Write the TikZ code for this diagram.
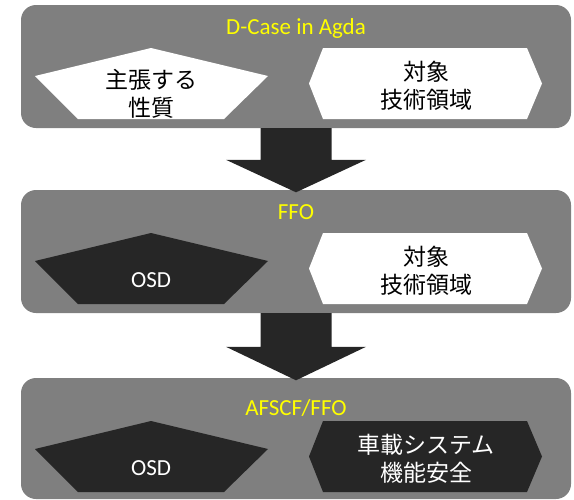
\documentclass[tikz,border=0pt]{standalone}
\usepackage{fontspec}
\setmainfont{Carlito}
\newfontfamily\jp{Noto Sans CJK JP}
\usetikzlibrary{calc}
\definecolor{panelgray}{RGB}{127,127,127}
\definecolor{shapedark}{RGB}{38,38,38}
\definecolor{titleyellow}{RGB}{255,255,0}
\tikzset{
  panel/.style={fill=panelgray, rounded corners=15pt, inner sep=0pt, draw=none, minimum width=550pt},
  lightshape/.style={fill=white},
  darkfill/.style={fill=shapedark},
  blockarrow/.style={fill=shapedark},
  titletext/.style={text=titleyellow, font=\fontsize{23}{28}\selectfont, anchor=base, inner sep=0pt},
  blacktext/.style={text=black, font=\fontsize{23}{28}\selectfont, align=center, inner sep=0pt},
  whitetext/.style={text=white, font=\fontsize{23}{28}\selectfont, align=center, inner sep=0pt},
  pentapath/.style={insert path={(151,43) -- (268,71) -- (224,114) -- (78,114) -- (35,71) -- cycle}},
  hexapath/.style={insert path={(323,43) -- (527,43) -- (542,78.5) -- (527,114) -- (323,114) -- (309,78.5) -- cycle}}
}
\begin{document}
\begin{tikzpicture}[x=1pt,y=-1pt]
\useasboundingbox (0,0) rectangle (574,499);
% panels
\node[panel, minimum height=123pt] (p1) at (296,66.5) {};
\node[panel, minimum height=123pt] (p2) at (296,251.5) {};
\node[panel, minimum height=121pt] (p3) at (296,438.5) {};
% panel 1
\begin{scope}[shift={(0,5)}]
  \fill[lightshape, pentapath];
  \fill[lightshape, hexapath];
  \node[titletext] (t1) at (296,29.5) {D-Case in Agda};
  \node[blacktext] (a1) at (151,89) {\jp 主張する\\\jp 性質};
  \node[blacktext] (b1) at (426,80.5) {\jp 対象\\\jp 技術領域};
\end{scope}
% panel 2
\begin{scope}[shift={(0,190)}]
  \fill[darkfill, pentapath];
  \fill[lightshape, hexapath];
  \node[titletext] (t2) at (296,29) {FFO};
  \node[whitetext] (a2) at (151,90) {OSD};
  \node[blacktext] (b2) at (426,80.5) {\jp 対象\\\jp 技術領域};
\end{scope}
% panel 3
\begin{scope}[shift={(0,378)}]
  \fill[darkfill, pentapath];
  \fill[darkfill, hexapath];
  \node[titletext] (t3) at (296,37.5) {AFSCF/FFO};
  \node[whitetext] (a3) at (151,90) {OSD};
  \node[whitetext] (b3) at (426,80.5) {\jp 車載システム\\\jp 機能安全};
\end{scope}
% block arrows
\fill[blockarrow] ($(p1.south)+(-35.5,0)$) -- ($(p1.south)+(35.5,0)$) -- ($(p2.north)+(35.5,-30)$) -- ($(p2.north)+(70,-30)$) -- ($(p2.north)+(0,2.5)$) -- ($(p2.north)+(-70,-30)$) -- ($(p2.north)+(-35.5,-30)$) -- cycle;
\fill[blockarrow] ($(p2.south)+(-35.5,0)$) -- ($(p2.south)+(35.5,0)$) -- ($(p3.north)+(35.5,-31)$) -- ($(p3.north)+(70,-31)$) -- ($(p3.north)+(0,2.5)$) -- ($(p3.north)+(-70,-31)$) -- ($(p3.north)+(-35.5,-31)$) -- cycle;
\end{tikzpicture}
\end{document}
